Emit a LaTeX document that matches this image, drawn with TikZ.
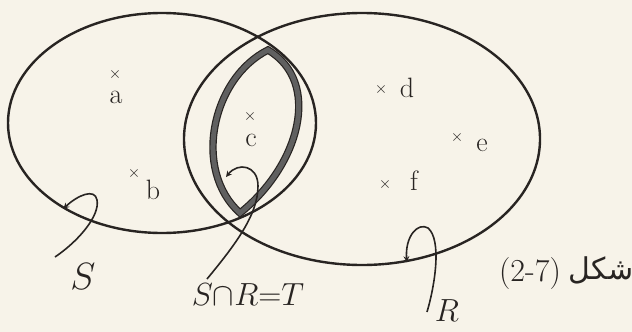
\RequirePackage{fix-cm}
\documentclass[tikz,border=0pt]{standalone}
\usepackage{fontspec}
\usepackage{xcolor}
\usepackage{tikz}
\usetikzlibrary{shapes.geometric}
\newfontfamily\arabicfont[Script=Arabic]{DejaVu Sans}
\TeXXeTstate=1
\definecolor{paper}{RGB}{247,243,233}
\definecolor{ink}{RGB}{40,36,34}

\begin{document}
\begin{tikzpicture}[x=1pt, y=-1pt,
    setbox/.style={draw=ink, ellipse, line width=2.4pt, inner sep=0pt},
    cross/.style={font=\fontsize{16}{18}\selectfont, text=ink, inner sep=0pt},
    elem/.style={font=\fontsize{28}{30}\selectfont, text=ink, inner sep=0pt},
    lbl/.style={font=\fontsize{38}{42}\selectfont, text=ink, inner sep=0pt},
    curl/.style={->, >=stealth, draw=ink, line width=1.6pt},
  ]
    \fill[paper] (0,0) rectangle (632,332);
    \useasboundingbox (0,0) rectangle (632,332);

    \node[setbox, minimum width=308pt, minimum height=220pt] (setS) at (162,123) {};
    \node[setbox, minimum width=356pt, minimum height=252pt] (setR) at (362,139) {};

    \draw[ink, line width=1.2pt, double=gray!75!black, double distance=5pt]
      (268,50) .. controls (212,78) and (192,170) .. (240,213)
      .. controls (300,165) and (322,82) .. cycle;

    \node[cross] (xa) at (115,74) {$\times$};
    \node[elem]  (a)  at (116,97) {a};
    \node[cross] (xb) at (134,173) {$\times$};
    \node[elem]  (b)  at (153,190) {b};
    \node[cross] (xc) at (250,116) {$\times$};
    \node[elem]  (c)  at (251,140) {c};
    \node[cross] (xd) at (381,89) {$\times$};
    \node[elem]  (d)  at (407,88) {d};
    \node[cross] (xe) at (457,137) {$\times$};
    \node[elem]  (e)  at (482,145) {e};
    \node[cross] (xf) at (385,184) {$\times$};
    \node[elem]  (f)  at (414,181) {f};

    \node[lbl] (labS) at (83,277) {$S$};
    \node[lbl, font=\fontsize{32}{36}\selectfont] (labT) at (248,295) {$S{\cap}R{=}T$};
    \node[lbl, font=\fontsize{32}{36}\selectfont] (labR) at (447,311) {$R$};
    \node[lbl, font=\fontsize{32}{36}\selectfont] (fignum) at (530,274) {(2-7)};
    \node[lbl, font=\arabicfont\fontsize{30}{34}\selectfont] (figword) at (601,270) {\beginR شكل\endR};

    \coordinate (sTail) at (55,257);
    \coordinate (tTail) at (207,279);
    \coordinate (tTip) at (226,177);
    \coordinate (rTail) at (427,312);

    \draw[curl] (sTail) .. controls (80,240) and (100,215) .. (97,200)
      .. controls (95,188) and (78,195) .. (setS.221);
    \draw[curl] (tTail) .. controls (235,245) and (258,215) .. (258,186)
      .. controls (258,165) and (238,162) .. (tTip);
    \draw[curl] (rTail) .. controls (435,285) and (442,240) .. (428,228)
      .. controls (418,222) and (405,236) .. (setR.-70);
  \end{tikzpicture}
\end{document}
